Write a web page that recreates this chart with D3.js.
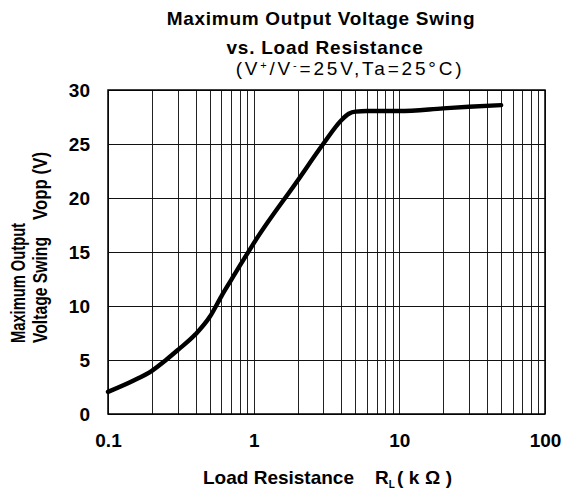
<!DOCTYPE html>
<html>
<head>
<meta charset="utf-8">
<script src="https://cdnjs.cloudflare.com/ajax/libs/d3/7.8.5/d3.min.js"></script>
<style>
  body { margin: 0; background: #fff; }
  text { font-family: "Liberation Sans", Arial, sans-serif; font-weight: bold; fill: #000; }
</style>
</head>
<body>
<div id="chart"></div>
<script>
// load resistance (kOhm) vs max output swing (Vpp)
var loadRes = [0.1, 0.15, 0.2, 0.25, 0.3, 0.4, 0.5, 0.6, 0.7, 0.8, 0.9, 1, 2, 3, 4, 4.5, 5, 6, 8, 10, 20, 30, 50];
var vopp    = [2.05, 3.1, 4.0, 5.0, 5.9, 7.4, 9.0, 10.9, 12.4, 13.7, 14.8, 15.8, 21.6, 25.0, 27.2, 27.8, 28.0, 28.05, 28.05, 28.05, 28.3, 28.45, 28.6];
var xTicks = [0.1, 1, 10, 100];
var xTickLabels = ["0.1", "1", "10", "100"];
var yTicks = [0, 5, 10, 15, 20, 25, 30];

var width = 569, height = 498;
var plotL = 108, plotR = 545, plotT = 90, plotB = 414;

var svg = d3.select("#chart").append("svg")
    .attr("width", width)
    .attr("height", height);

var x = d3.scaleLog().domain([0.1, 100]).range([plotL, plotR]);
var y = d3.scaleLinear().domain([0, 30]).range([plotB, plotT]);

// minor log grid: 1..9 of each decade
var xGrid = [];
[0.1, 1, 10].forEach(function(dec){
    for(var k = 1; k <= 10; k++){ xGrid.push(dec * k); }
});

var grid = svg.append("g").attr("class", "grid");
grid.selectAll("line.v")
    .data(xGrid)
    .enter().append("line")
    .attr("class", "v")
    .attr("x1", function(d){ return Math.round(x(d)) + 0.5; })
    .attr("x2", function(d){ return Math.round(x(d)) + 0.5; })
    .attr("y1", plotT)
    .attr("y2", plotB)
    .style("stroke", "#222")
    .style("stroke-width", 1);
grid.selectAll("line.h")
    .data(yTicks)
    .enter().append("line")
    .attr("class", "h")
    .attr("x1", plotL)
    .attr("x2", plotR)
    .attr("y1", function(d){ return Math.round(y(d)) + 0.5; })
    .attr("y2", function(d){ return Math.round(y(d)) + 0.5; })
    .style("stroke", "#111")
    .style("stroke-width", 1.2);

svg.append("rect")
    .attr("x", plotL)
    .attr("y", plotT)
    .attr("width", plotR - plotL)
    .attr("height", plotB - plotT)
    .style("fill", "none")
    .style("stroke", "#000")
    .style("stroke-width", 1.5);

// axes as plain labels (no tick marks in the original)
var xAxis = d3.axisBottom(x).tickValues(xTicks).tickSize(0)
    .tickFormat(function(d, i){ return xTickLabels[i]; });
var gx = svg.append("g")
    .attr("transform", "translate(0," + plotB + ")")
    .call(xAxis);
gx.select(".domain").remove();
gx.selectAll("text")
    .attr("y", 33)
    .attr("dy", 0)
    .style("font-size", "19px");

var yAxis = d3.axisLeft(y).tickValues(yTicks).tickSize(0);
var gy = svg.append("g")
    .attr("transform", "translate(" + plotL + ",0)")
    .call(yAxis);
gy.select(".domain").remove();
gy.selectAll("text")
    .attr("x", -18)
    .attr("dy", "0.36em")
    .style("font-size", "19px");

var line = d3.line()
    .x(function(d){ return x(d[0]); })
    .y(function(d){ return y(d[1]); })
    .curve(d3.curveMonotoneX);

svg.append("path")
    .datum(d3.zip(loadRes, vopp))
    .attr("d", line)
    .style("fill", "none")
    .style("stroke", "#000")
    .style("stroke-width", 4.4)
    .style("stroke-linecap", "round")
    .style("stroke-linejoin", "round");

// titles
svg.append("text")
    .attr("x", 321).attr("y", 24.5)
    .attr("text-anchor", "middle")
    .style("font-size", "19px")
    .style("letter-spacing", "0.7px")
    .text("Maximum Output Voltage Swing");
svg.append("text")
    .attr("x", 325).attr("y", 53.5)
    .attr("text-anchor", "middle")
    .style("font-size", "19px")
    .style("letter-spacing", "0.75px")
    .text("vs. Load Resistance");
var t3 = svg.append("text")
    .attr("x", 350).attr("y", 75)
    .attr("text-anchor", "middle")
    .style("font-size", "19px")
    .style("font-weight", "normal")
    .style("letter-spacing", "2.8px");
t3.append("tspan").text("(V");
t3.append("tspan").attr("dy", -6).style("font-size", "11px").text("+");
t3.append("tspan").attr("dy", 6).text("/V");
t3.append("tspan").attr("dy", -6).style("font-size", "11px").text("-");
t3.append("tspan").attr("dy", 6).text("=25V,Ta=25°C)");

var xt = svg.append("text")
    .attr("x", 203).attr("y", 484)
    .style("font-size", "19px");
xt.append("tspan").text("Load Resistance");
xt.append("tspan").attr("x", 375).text("R");
xt.append("tspan").attr("dy", 4).style("font-size", "10px").text("L");
xt.append("tspan").attr("x", 397).attr("dy", -4).style("letter-spacing", "5.5px").text("(kΩ)");

// y label: condensed glyphs as in the original
svg.append("text")
    .attr("transform", "translate(25,343) rotate(-90)")
    .style("font-size", "21px")
    .attr("textLength", 120)
    .attr("lengthAdjust", "spacingAndGlyphs")
    .text("Maximum Output");
var yt = svg.append("g")
    .attr("transform", "translate(47,343) rotate(-90)");
yt.append("text")
    .style("font-size", "21px")
    .attr("textLength", 106)
    .attr("lengthAdjust", "spacingAndGlyphs")
    .text("Voltage Swing");
yt.append("text")
    .attr("x", 123)
    .style("font-size", "21px")
    .attr("textLength", 68)
    .attr("lengthAdjust", "spacingAndGlyphs")
    .text("Vopp (V)");
</script>
</body>
</html>
